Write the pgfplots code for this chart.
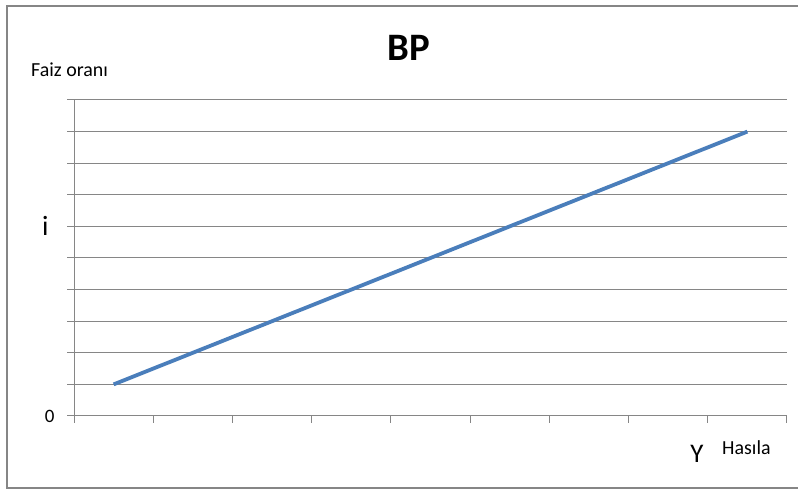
\documentclass[border=0pt]{standalone}
\usepackage{pgfplots}
\pgfplotsset{compat=1.18}
\usepackage{fontspec}
\setmainfont{Carlito}
\definecolor{gridgray}{RGB}{134,134,134}
\definecolor{bpblue}{RGB}{74,126,187}

\begin{document}
\begin{tikzpicture}
  \useasboundingbox (0,0) rectangle (798bp,490bp);
  % outer chart frame (extends past the right edge)
  \draw[gridgray, line width=1.2bp] (810bp,484bp) -- (7bp,484bp) -- (7bp,2bp) -- (810bp,2bp);

  \begin{axis}[
    at={(74bp,74bp)}, anchor=south west,
    scale only axis,
    width=713bp, height=316bp,
    xmin=0, xmax=9, ymin=0, ymax=10,
    axis x line*=bottom, axis y line*=left,
    axis line style={gridgray, line width=1bp, -},
    xtick={0,...,9}, ytick={0,...,10},
    xticklabels={},
    yticklabels={0,{},{},{},{},{},{\fontsize{28}{28}\selectfont i\hspace*{6bp}},{},{},{},{}},
    yticklabel style={font=\fontsize{19}{19}\selectfont, text=black, xshift=-9bp},
    tick align=outside,
    major tick length=7bp,
    tick style={gridgray, line width=1bp},
    ymajorgrids,
    grid style={gridgray, line width=1bp},
    clip=false,
  ]
    \addplot[bpblue, line width=3.8bp, mark=none] coordinates {
      (0.5,1) (1.5,2) (2.5,3) (3.5,4) (4.5,5)
      (5.5,6) (6.5,7) (7.5,8) (8.5,9)
    };
  \end{axis}

  \node[anchor=base, font=\fontsize{39}{39}\selectfont\bfseries] at (409bp,429bp) {BP};
  \node[anchor=base west, inner sep=0pt, font=\fontsize{20}{20}\selectfont] at (31bp,413bp) {Faiz oranı};
  \node[anchor=base, inner sep=0pt, font=\fontsize{27}{27}\selectfont] at (697bp,28bp) {Y};
  \node[anchor=base west, inner sep=0pt, font=\fontsize{20}{20}\selectfont] at (722bp,36bp) {Hasıla};
\end{tikzpicture}
\end{document}
